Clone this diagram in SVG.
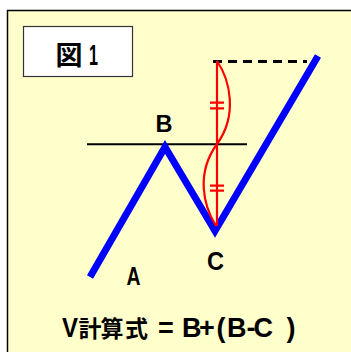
<svg xmlns="http://www.w3.org/2000/svg" width="351" height="352" viewBox="0 0 351 352">
<style>
.lbl{font-family:"Liberation Sans","Noto Sans CJK JP",sans-serif;font-weight:bold;fill:#000;text-anchor:middle}
.cjk{font-family:"Noto Sans CJK JP",sans-serif;font-weight:bold}
.red{stroke:#ff0000;fill:none;stroke-width:2.2}
</style>
<rect x="7.5" y="10.5" width="360" height="360" fill="#ffffcc" stroke="#000" stroke-width="1.5"/>
<g id="title">
<rect x="23.5" y="26.5" width="109" height="50" fill="#fff" stroke="#333" stroke-width="1.2"/>
<text class="lbl" font-size="27"><tspan class="cjk" x="69" y="64.5" font-weight="900">図</tspan><tspan x="93.5" y="65" font-size="30" textLength="9" lengthAdjust="spacingAndGlyphs">1</tspan></text>
</g>
<g id="connectors">
<line x1="87" y1="144.3" x2="247" y2="144.3" stroke="#000" stroke-width="2"/>
<line x1="213" y1="61.5" x2="307" y2="61.5" stroke="#000" stroke-width="3" stroke-dasharray="9,6"/>
<polyline points="90,277 165,147 215,231 318,56" fill="none" stroke="#0000ff" stroke-width="7" stroke-linejoin="miter"/>
<line class="red" x1="217" y1="61" x2="217" y2="226"/>
<path class="red" d="M217,61 C230,80 238,115 217,144 C196,173 203,205 216,226"/>
<path class="red" d="M210,102.7 H224 M210,108.3 H224 M210,185.7 H224 M210,190.7 H224" stroke-width="2"/>
</g>
<g id="labels">
<text class="lbl" x="164" y="131.5" font-size="24" textLength="17" lengthAdjust="spacingAndGlyphs">B</text>
<text class="lbl" x="215.5" y="270" font-size="25" textLength="17" lengthAdjust="spacingAndGlyphs">C</text>
<text class="lbl" x="133.5" y="285" font-size="25" textLength="14" lengthAdjust="spacingAndGlyphs">A</text>
<text class="lbl" y="337" font-size="27"><tspan x="70" textLength="16" lengthAdjust="spacingAndGlyphs">V</tspan><tspan class="cjk" font-size="23" x="90 112 136.5">計算式</tspan><tspan x="150 166 178 191.7 207 221 236.7 251 263.3 291"> = B+(B-C)</tspan></text>
</g>
</svg>
